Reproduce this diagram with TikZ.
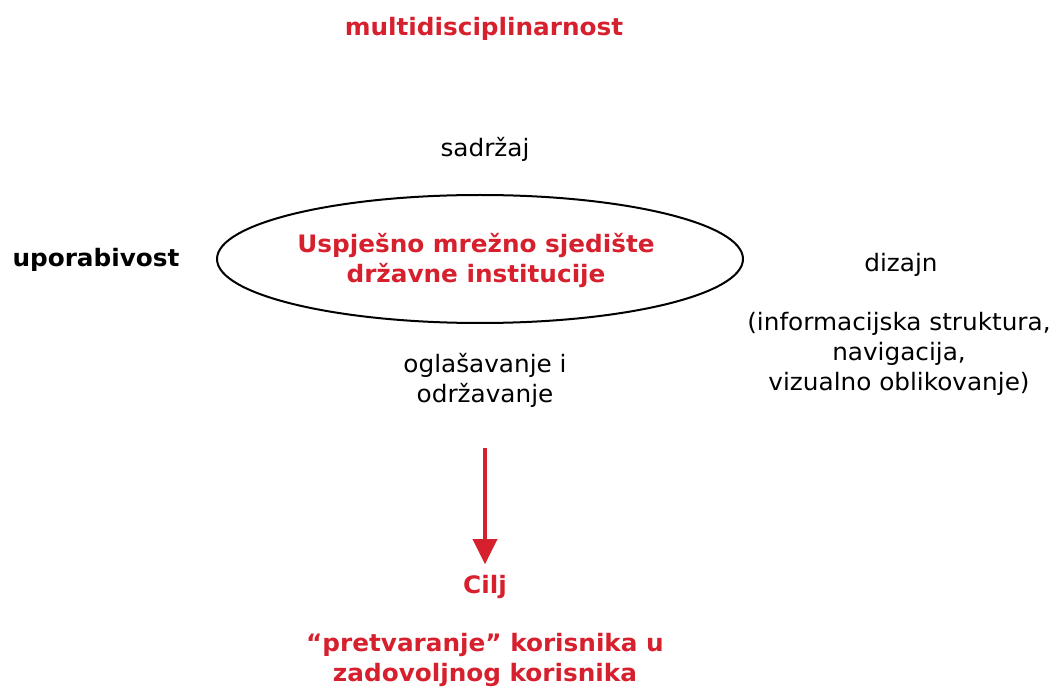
\documentclass[tikz,border=0pt]{standalone}
\usepackage{fontspec}
\setmainfont{DejaVu Sans}[FakeStretch=1.03]
\usetikzlibrary{shapes.geometric, arrows.meta}
\definecolor{zred}{RGB}{214,32,46}
\begin{document}
\begin{tikzpicture}[x=0.75pt,y=-0.75pt,
    every node/.style={inner sep=0pt, align=center, font=\fontsize{18}{22.5}\selectfont},
    plain/.style={text=black},
    heavy/.style={font=\fontsize{18}{22.5}\selectfont\bfseries},
    redheavy/.style={heavy, text=zred},
    site/.style={ellipse, draw, line width=1.5pt, minimum width=394.5pt, minimum height=96pt}]
            \useasboundingbox (0,0) rectangle (1058,688);
            \node [redheavy] (multi) at (484,29) {multidisciplinarnost};
            \node [plain] (sadrzaj) at (485,149) {sadržaj};
            \node [heavy] (uporab) at (96,260) {uporabivost};
            \node [site] (sjediste) at (480,259) {};
            \node [redheavy] (sjeditext) at (476,260) {Uspješno mrežno sjedište\\državne institucije};
            \node [plain] (dizajn) at (901,265) {dizajn};
            \node [plain] (dizdet) at (899,354) {(informacijska struktura,\\navigacija,\\vizualno oblikovanje)};
            \node [plain] (oglas) at (485,380) {oglašavanje i\\održavanje};
            \coordinate (strelica) at (485,448);
            \node [redheavy] (cilj) at (485,587) {Cilj};
            \node [redheavy] (pretvar) at (485,660) {“pretvaranje” korisnika u\\zadovoljnog korisnika};
            \draw [zred, line width=3.2pt, -{Triangle[length=19pt, width=18pt]}] (strelica) -- ([yshift=8pt]cilj.north);
\end{tikzpicture}
\end{document}
